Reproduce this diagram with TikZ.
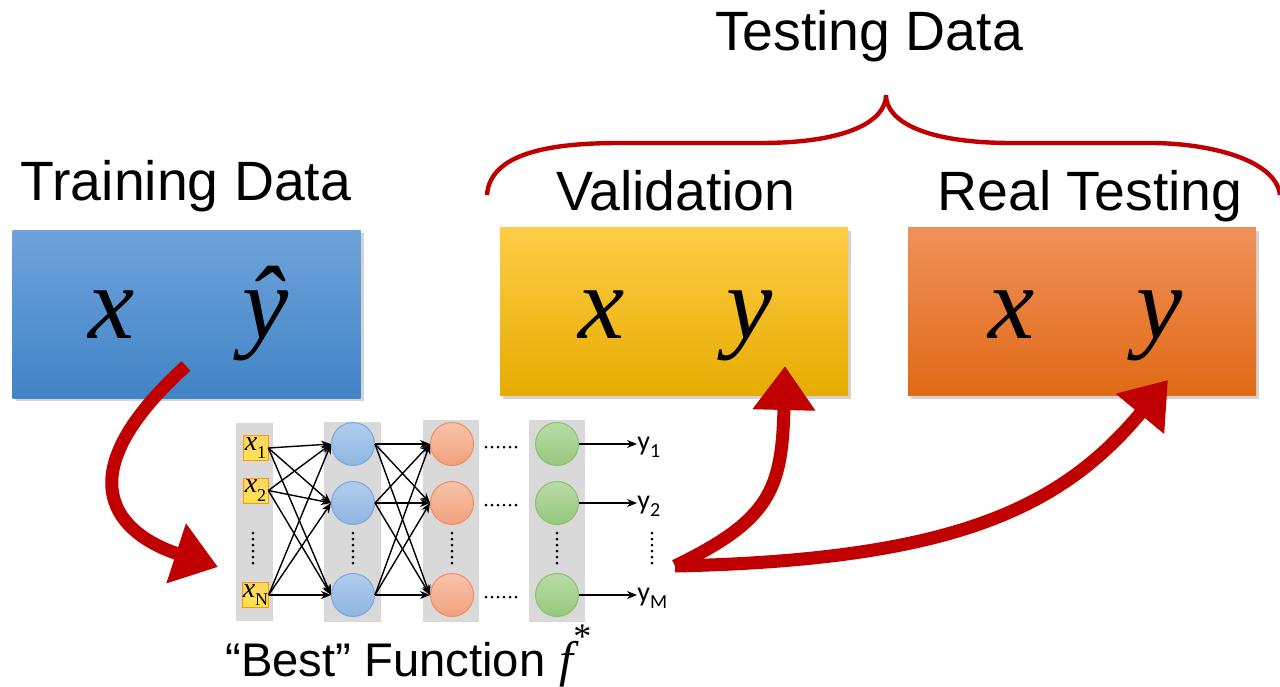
\documentclass[tikz,border=0pt]{standalone}
\usepackage{fontspec}
\setmainfont{Liberation Sans}
\newfontfamily\timesf{Liberation Serif}
\newfontfamily\calf{Carlito}
\usetikzlibrary{arrows.meta}
\usetikzlibrary{shadows}
\usetikzlibrary{positioning}

\definecolor{bigred}{HTML}{C00000}
\definecolor{colgrey}{HTML}{D9D9D9}

\newcommand{\inlbl}[1]{{\timesf\fontsize{14}{14}\selectfont\itshape x\raisebox{-0.3em}{\upshape\fontsize{9}{9}\selectfont #1}}}
\newcommand{\outlbl}[1]{{\calf\fontsize{14}{14}\selectfont y\raisebox{-0.25em}{\fontsize{10}{10}\selectfont #1}}}

\tikzset{
  databox/.style={rectangle, minimum width=174pt, minimum height=84pt, inner sep=0pt,
    drop shadow={shadow xshift=1.5pt, shadow yshift=-1.5pt, opacity=0.35}},
  mathletter/.style={font=\timesf\itshape\fontsize{52}{56}\selectfont, anchor=base, inner sep=0pt},
  title/.style={font=\fontsize{27.7}{32}\selectfont, anchor=base, inner sep=0pt},
  inbox/.style={rectangle, draw=orange!80!yellow, top color=yellow!45!orange!60, bottom color=yellow!70!orange!70, minimum size=12.5pt, inner sep=0pt},
  neuron/.style={circle, minimum size=21.5pt, inner sep=0pt, line width=0.5pt},
  netarrow/.style={-{Stealth[length=5pt, width=4pt]}, line width=0.7pt},
  bigarrow/.style={bigred, line width=6.5pt, -{Triangle[length=22pt, width=30pt]}},
  dotline/.style={line width=1.5pt, dash pattern=on 0pt off 3pt, line cap=round}
}

\begin{document}
\begin{tikzpicture}[x=0.5pt, y=-0.5pt]
  \useasboundingbox (0,0) rectangle (1280,686);

  % data boxes
  \node[databox, top color={rgb,255:red,111;green,163;blue,219}, bottom color={rgb,255:red,64;green,132;blue,198}] (train) at (186.5,314) {};
  \node[databox, top color={rgb,255:red,255;green,204;blue,70}, middle color={rgb,255:red,255;green,192;blue,0},
    bottom color={rgb,255:red,230;green,172;blue,0}] (valid) at (674,311.5) {};
  \node[databox, top color={rgb,255:red,240;green,144;blue,90}, middle color={rgb,255:red,244;green,123;blue,32},
    bottom color={rgb,255:red,224;green,106;blue,21}] (real) at (1082,311.5) {};

  \node[title] (traintitle) at (186,200) {Training Data};
  \node[title] (validtitle) at (676,210) {Validation};
  \node[title] (realtitle) at (1090,210) {Real Testing};
  \node[title] (testtitle) at (869,50) {Testing Data};

  \node[mathletter] (trainx) at (112,338) {x};
  \node[mathletter] (trainy) at (266,338) {\^{y}};
  \node[mathletter] (validx) at (602,338) {x};
  \node[mathletter] (validy) at (750,338) {y};
  \node[mathletter] (realx) at (1012,338) {x};
  \node[mathletter] (realy) at (1160,338) {y};

  % brace over validation and real testing
  \draw[bigred, line width=2.2pt] (487,195) .. controls (490,150) and (560,143) .. (620,143) -- (760,143)
    .. controls (850,143) and (886,120) .. (886,95)
    .. controls (886,120) and (922,143) .. (1012,143) -- (1150,143)
    .. controls (1210,143) and (1276,160) .. (1280,195);

  % network columns
  \fill[colgrey] (236,423) rectangle (273,621);
  \fill[colgrey] (324,422) rectangle (381,622);
  \fill[colgrey] (423,420) rectangle (479,622);
  \fill[colgrey] (529,420) rectangle (585,622);

  \node[inbox] (in1) at (255.5,448) {\inlbl{1}};
  \node[inbox] (in2) at (255.5,490.5) {\inlbl{2}};
  \node[inbox] (inN) at (255.5,595) {\inlbl{N}};

  \foreach \r/\y in {1/444, 2/503, N/595} {
    \node[neuron, draw={rgb,255:red,125;green,165;blue,215}, top color={rgb,255:red,176;green,205;blue,238}, bottom color={rgb,255:red,143;green,182;blue,226}] (h\r) at (353,\y) {};
    \node[neuron, draw={rgb,255:red,240;green,140;blue,100}, top color={rgb,255:red,248;green,196;blue,170}, bottom color={rgb,255:red,240;green,160;blue,125}] (o\r) at (452,\y) {};
    \node[neuron, draw={rgb,255:red,140;green,190;blue,110}, top color={rgb,255:red,185;green,220;blue,165}, bottom color={rgb,255:red,150;green,200;blue,125}] (g\r) at (557,\y) {};
  }

  \foreach \a in {1,2,N} {
    \foreach \b in {1,2,N} {
      \draw[netarrow] (in\a.east) -- (h\b.west);
      \draw[netarrow] (h\a.east) -- (o\b.west);
    }
  }

  \node[anchor=west, inner sep=0pt] (y1) at (637,447) {\outlbl{1}};
  \node[anchor=west, inner sep=0pt] (y2) at (637,506) {\outlbl{2}};
  \node[anchor=west, inner sep=0pt] (yM) at (637,598) {\outlbl{M}};
  \draw[netarrow] (g1.east) -- (y1.west |- g1);
  \draw[netarrow] (g2.east) -- (y2.west |- g2);
  \draw[netarrow] (gN.east) -- (yM.west |- gN);

  \foreach \x in {253,353,452,557,652} {
    \draw[dotline] (\x,533) -- (\x,566);
  }
  \foreach \y in {447,505,597} {
    \draw[dotline] (486,\y) -- (518,\y);
  }

  \node[anchor=base west, inner sep=0pt, font=\fontsize{23.6}{28}\selectfont] (best) at (225,676)
    {``Best'' Function\hspace{0.3em}{\timesf\itshape\fontsize{25}{25}\selectfont f\raisebox{0.55em}{\upshape\fontsize{18}{18}\selectfont *}}};

  % red arrows
  \coordinate (s1) at (186,366);
  \coordinate (t1) at (218,567);
  \coordinate (s2) at (675,566);
  \coordinate (t2) at (785,366);
  \coordinate (t3) at (1168,380);
  \draw[bigarrow] (s1) .. controls (60,480) and (120,535) .. (t1);
  \draw[bigarrow] (s2) .. controls (770,520) and (782,490) .. (t2);
  \draw[bigarrow] (s2) .. controls (950,560) and (1060,510) .. (t3);
\end{tikzpicture}
\end{document}
